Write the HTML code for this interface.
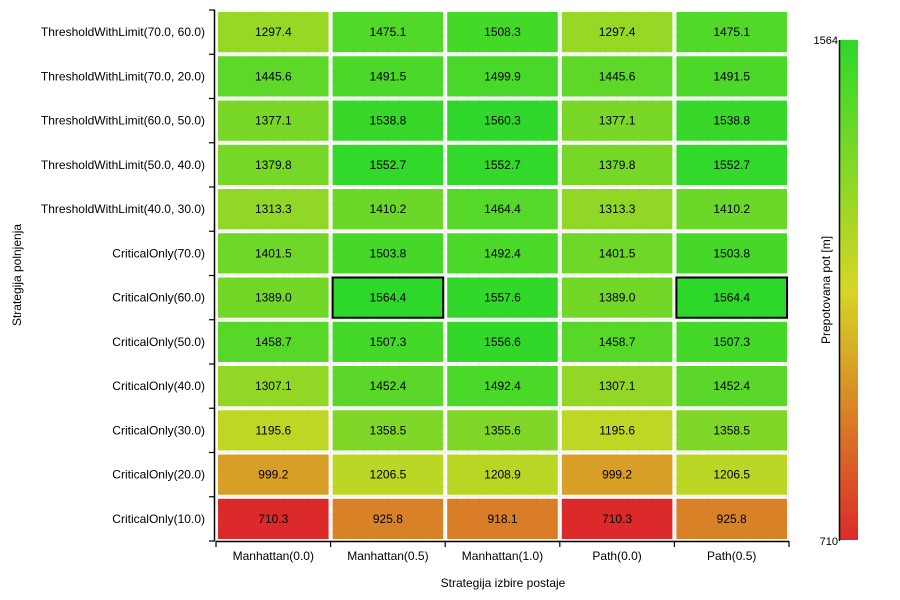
<!DOCTYPE html>
<html><head><meta charset="utf-8"><style>
body{margin:0;background:#fff;}
svg{display:block;font-family:"Liberation Sans",sans-serif;}
</style></head><body>
<svg id="chart" width="900" height="600" viewBox="0 0 900 600">
<defs>
<linearGradient id="cbar" x1="0" y1="1" x2="0" y2="0">
<stop offset="0" stop-color="#dc2a2a"/>
<stop offset="0.5" stop-color="#d6d624"/>
<stop offset="1" stop-color="#2ed82a"/>
</linearGradient>
<pattern id="grid" width="11.46" height="8.85" patternUnits="userSpaceOnUse" x="216" y="10">
<rect width="11.46" height="8.85" fill="#fff"/>
<path d="M11.46 0V8.85M0 8.85H11.46" stroke="#e2e2e2" stroke-width="1"/>
</pattern>
</defs>
<rect x="216" y="10" width="573" height="531" fill="url(#grid)"/>
<g id="cells"></g>
<g id="axes"></g>
<text x="503" y="587" font-size="12" text-anchor="middle">Strategija izbire postaje</text>
<text transform="translate(21,275) rotate(-90)" font-size="12" text-anchor="middle">Strategija polnjenja</text>
<rect x="840" y="40" width="18" height="500" fill="url(#cbar)"/>
<line x1="839.5" y1="40" x2="839.5" y2="541" stroke="#000" stroke-width="1.5"/>
<text x="838" y="44" font-size="11" text-anchor="end">1564</text>
<text x="838" y="545" font-size="11" text-anchor="end">710</text>
<text transform="translate(830,290) rotate(-90)" font-size="12" text-anchor="middle">Prepotovana pot [m]</text>
</svg>
<script>
const columns = ["Manhattan(0.0)","Manhattan(0.5)","Manhattan(1.0)","Path(0.0)","Path(0.5)"];
const rows = ["ThresholdWithLimit(70.0, 60.0)","ThresholdWithLimit(70.0, 20.0)","ThresholdWithLimit(60.0, 50.0)","ThresholdWithLimit(50.0, 40.0)","ThresholdWithLimit(40.0, 30.0)","CriticalOnly(70.0)","CriticalOnly(60.0)","CriticalOnly(50.0)","CriticalOnly(40.0)","CriticalOnly(30.0)","CriticalOnly(20.0)","CriticalOnly(10.0)"];
const values = [
[1297.4,1475.1,1508.3,1297.4,1475.1],
[1445.6,1491.5,1499.9,1445.6,1491.5],
[1377.1,1538.8,1560.3,1377.1,1538.8],
[1379.8,1552.7,1552.7,1379.8,1552.7],
[1313.3,1410.2,1464.4,1313.3,1410.2],
[1401.5,1503.8,1492.4,1401.5,1503.8],
[1389.0,1564.4,1557.6,1389.0,1564.4],
[1458.7,1507.3,1556.6,1458.7,1507.3],
[1307.1,1452.4,1492.4,1307.1,1452.4],
[1195.6,1358.5,1355.6,1195.6,1358.5],
[999.2,1206.5,1208.9,999.2,1206.5],
[710.3,925.8,918.1,710.3,925.8]
];
const vmin = 710, vmax = 1564;
const X0=216, X1=789, Y0=10, Y1=541;
const cw=(X1-X0)/columns.length, rh=(Y1-Y0)/rows.length;
const xPos=i=>X0+i*cw, yPos=j=>Y0+j*rh;
function lerp(a,b,t){return a.map((v,i)=>Math.round(v+(b[i]-v)*t));}
function color(v){
  const t=Math.max(0,Math.min(1,(v-vmin)/(vmax-vmin)));
  const r=[220,42,42],y=[214,214,36],g=[46,216,42];
  const c=t<0.5?lerp(r,y,t*2):lerp(y,g,(t-0.5)*2);
  return `rgb(${c[0]},${c[1]},${c[2]})`;
}
const NS="http://www.w3.org/2000/svg";
const cells=document.getElementById('cells'), axes=document.getElementById('axes');
function mk(tag,attrs,parent){const e=document.createElementNS(NS,tag);for(const k in attrs)e.setAttribute(k,attrs[k]);parent.appendChild(e);return e;}
let maxV=-Infinity; values.forEach(r=>r.forEach(v=>{if(v>maxV)maxV=v;}));
values.forEach((row,j)=>row.forEach((v,i)=>{
  const rc=mk('rect',{x:xPos(i)+2,y:yPos(j)+2,width:cw-4,height:rh-4,fill:color(v)},cells);
  
  
  if(v===maxV){
    const b=mk('rect',{x:xPos(i)+2,y:yPos(j)+2,width:cw-4,height:rh-4,fill:'none',stroke:'#000','stroke-width':2},cells);
    
    
  }
  const t=mk('text',{x:xPos(i)+cw/2,y:yPos(j)+rh/2+4,'font-size':12,'text-anchor':'middle'},cells);
  t.textContent=v.toFixed(1);
  
  
}));
const ya=mk('line',{x1:214.5,y1:Y0,x2:214.5,y2:Y1,stroke:'#000','stroke-width':1.5},axes);


for(let j=0;j<=rows.length;j++){mk('line',{x1:209,y1:yPos(j),x2:215,y2:yPos(j),stroke:'#000','stroke-width':1.2},axes);}
rows.forEach((r,j)=>{
  const t=mk('text',{x:205,y:yPos(j)+rh/2+4,'font-size':12,'text-anchor':'end'},axes);
  t.textContent=r;
  
  
});
const xa=mk('line',{x1:X0,y1:541.5,x2:X1,y2:541.5,stroke:'#000','stroke-width':1.5},axes);


for(let i=0;i<=columns.length;i++){mk('line',{x1:xPos(i),y1:541,x2:xPos(i),y2:547,stroke:'#000','stroke-width':1.2},axes);}
columns.forEach((c,i)=>{
  const t=mk('text',{x:xPos(i)+cw/2,y:560,'font-size':12,'text-anchor':'middle'},axes);
  t.textContent=c;
  
  
});
</script>
</body></html>
